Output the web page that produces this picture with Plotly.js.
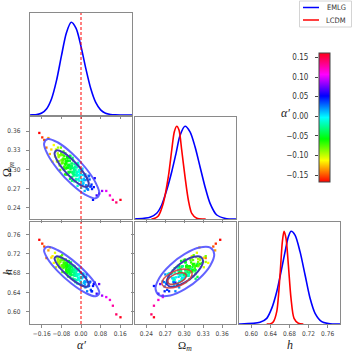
<!DOCTYPE html>
<html>
<head>
<meta charset="utf-8">
<script src="https://cdn.plot.ly/plotly-3.0.1.min.js"></script>
<style>
  html, body { margin: 0; padding: 0; background: #fff; }
  #plot { width: 354px; height: 354px; }
</style>
</head>
<body>
<div id="plot"></div>
<script>
// 1D marginals (normalised to peak = 1)
var alphaX = [-0.208, -0.20, -0.18, -0.16, -0.14, -0.12, -0.10, -0.08, -0.06, -0.04, -0.02, 0.00, 0.02, 0.04, 0.06, 0.08, 0.10, 0.12, 0.14, 0.16, 0.208];
var alphaP = [0, 0.001, 0.005, 0.021, 0.068, 0.176, 0.37, 0.634, 0.882, 1.0, 0.935, 0.74, 0.497, 0.282, 0.135, 0.055, 0.019, 0.006, 0.001, 0, 0];

var omX_emlg = [0.222, 0.2247, 0.2458, 0.2564, 0.2643, 0.2723, 0.2802, 0.2870, 0.2933, 0.3012, 0.3092, 0.3171, 0.3250, 0.3329, 0.3409, 0.3515, 0.3673, 0.382];
var omP_emlg = [0, 0.001, 0.019, 0.062, 0.151, 0.313, 0.510, 0.708, 0.90, 1.0, 0.94, 0.779, 0.564, 0.348, 0.169, 0.043, 0.003, 0];
var omX_lcdm = [0.248, 0.2510, 0.2589, 0.2668, 0.2748, 0.2802, 0.2843, 0.2881, 0.2917, 0.2960, 0.3012, 0.3065, 0.3119, 0.3198, 0.3302, 0.334];
var omP_lcdm = [0, 0.002, 0.032, 0.169, 0.456, 0.744, 0.941, 1.0, 0.959, 0.744, 0.456, 0.205, 0.061, 0.008, 0, 0];

var hX_emlg = [0.574, 0.5761, 0.6181, 0.6322, 0.6427, 0.6532, 0.6637, 0.6721, 0.6776, 0.6832, 0.6916, 0.7021, 0.7127, 0.7232, 0.7337, 0.7477, 0.7652, 0.786];
var hP_emlg = [0, 0, 0.018, 0.061, 0.169, 0.348, 0.600, 0.816, 0.941, 1.0, 0.959, 0.780, 0.528, 0.277, 0.115, 0.025, 0.002, 0];
var hX_lcdm = [0.632, 0.6391, 0.6462, 0.6532, 0.6601, 0.6650, 0.6685, 0.6727, 0.6776, 0.6832, 0.6895, 0.6986, 0.7091];
var hP_lcdm = [0, 0, 0.025, 0.133, 0.528, 0.887, 1.0, 0.924, 0.636, 0.277, 0.061, 0.008, 0];

// chain samples (alpha', Omega_m, h)
var sampAlpha = [-0.170,-0.158,-0.150,-0.141,-0.133,-0.127,-0.121,-0.116,-0.111,-0.106,-0.102,-0.098,-0.094,-0.091,-0.088,-0.085,-0.082,-0.079,-0.077,-0.074,
  -0.072,-0.070,-0.068,-0.066,-0.064,-0.062,-0.060,-0.058,-0.056,-0.055,-0.053,-0.051,-0.050,-0.048,-0.047,-0.045,-0.044,-0.042,-0.041,-0.039,
  -0.038,-0.036,-0.035,-0.033,-0.032,-0.030,-0.029,-0.027,-0.026,-0.024,-0.023,-0.021,-0.019,-0.018,-0.016,-0.014,-0.012,-0.010,-0.008,-0.006,
  -0.004,-0.002,0.000,0.003,0.006,0.009,0.012,0.015,0.018,0.021,0.025,0.029,0.033,0.038,0.043,0.049,0.056,0.064,0.074,0.086,
  0.103,0.118,0.130,0.144,0.161,
  -0.095,-0.087,-0.081,-0.076,-0.071,-0.067,-0.063,-0.059,-0.057,-0.054,-0.052,-0.049,-0.046,-0.043,-0.040,-0.037,-0.034,-0.031,-0.028,-0.025,
  -0.022,-0.020,-0.017,-0.015,-0.011,-0.007,-0.003,0.001,0.005,0.010,0.016,0.023,0.031,0.040,0.052,-0.065,-0.044,-0.035,-0.027,-0.009,
  -0.092,-0.089,-0.084,-0.080,-0.078,-0.075,-0.073,-0.069,-0.066,-0.063,-0.061,-0.058,-0.056,-0.053,-0.050,-0.048,-0.045,-0.043,-0.040,-0.037,
  -0.034,-0.031,-0.029,-0.026,-0.023,-0.019,-0.016,-0.013,-0.009,-0.005,-0.001,0.004,0.008,0.013,0.019,0.027,0.035,0.045,-0.060,-0.070];
var sampOm = [0.357,0.350,0.346,0.334,0.349,0.324,0.331,0.312,0.338,0.320,0.331,0.312,0.334,0.319,0.322,0.299,0.334,0.309,0.315,0.322,
  0.317,0.300,0.321,0.308,0.325,0.301,0.310,0.292,0.318,0.302,0.313,0.296,0.318,0.304,0.307,0.285,0.321,0.296,0.302,0.309,
  0.305,0.288,0.309,0.296,0.314,0.290,0.299,0.281,0.308,0.291,0.303,0.285,0.307,0.293,0.296,0.274,0.310,0.285,0.291,0.298,
  0.293,0.276,0.297,0.284,0.301,0.277,0.285,0.266,0.292,0.275,0.286,0.268,0.289,0.273,0.276,0.252,0.286,0.259,0.262,0.266,
  0.266,0.259,0.252,0.248,0.252,
  0.325,0.306,0.325,0.311,0.328,0.303,0.311,0.292,0.319,0.302,0.313,0.295,0.317,0.302,0.305,0.282,0.318,0.293,0.298,0.304,
  0.299,0.283,0.303,0.290,0.307,0.282,0.290,0.271,0.297,0.279,0.289,0.270,0.290,0.273,0.272,0.292,0.321,0.294,0.297,0.299,
  0.322,0.313,0.322,0.314,0.323,0.310,0.314,0.304,0.316,0.307,0.313,0.303,0.314,0.306,0.307,0.295,0.313,0.300,0.302,0.305,
  0.302,0.293,0.302,0.295,0.303,0.290,0.294,0.284,0.296,0.287,0.292,0.281,0.291,0.283,0.283,0.269,0.284,0.269,0.309,0.316];
var sampH = [0.749,0.741,0.735,0.711,0.727,0.733,0.712,0.715,0.701,0.722,0.692,0.712,0.703,0.713,0.694,0.706,0.715,0.693,0.717,0.696,
  0.690,0.706,0.697,0.681,0.699,0.708,0.688,0.692,0.679,0.702,0.673,0.693,0.686,0.696,0.678,0.690,0.699,0.679,0.702,0.682,
  0.676,0.692,0.684,0.668,0.687,0.695,0.675,0.680,0.667,0.689,0.661,0.681,0.674,0.684,0.665,0.678,0.687,0.666,0.689,0.669,
  0.663,0.679,0.670,0.654,0.672,0.679,0.659,0.663,0.650,0.672,0.642,0.661,0.653,0.662,0.642,0.653,0.660,0.637,0.657,0.633,
  0.630,0.624,0.612,0.594,0.588,
  0.707,0.692,0.712,0.682,0.701,0.693,0.702,0.682,0.695,0.703,0.683,0.705,0.685,0.678,0.694,0.685,0.668,0.686,0.694,0.674,
  0.678,0.665,0.687,0.658,0.677,0.669,0.678,0.659,0.670,0.678,0.656,0.677,0.655,0.645,0.657,0.696,0.672,0.688,0.694,0.668,
  0.709,0.699,0.703,0.707,0.696,0.707,0.696,0.692,0.699,0.694,0.686,0.694,0.698,0.687,0.688,0.682,0.692,0.677,0.686,0.682,
  0.686,0.676,0.681,0.685,0.674,0.685,0.674,0.670,0.677,0.671,0.662,0.669,0.672,0.661,0.661,0.652,0.660,0.642,0.694,0.695];

// contour outlines (68% and 95%)
var aOm95X = [0.0746, 0.0595, 0.0183, -0.038, -0.0943, -0.1355, -0.1506, -0.1355, -0.0943, -0.038, 0.0183, 0.0595, 0.0746];
var aOm95Y = [0.2615, 0.279, 0.3024, 0.3255, 0.342, 0.3475, 0.3405, 0.323, 0.2996, 0.2765, 0.26, 0.2545, 0.2615];
var aOm68X = [0.0317, 0.0224, -0.0032, -0.038, -0.0729, -0.0984, -0.1077, -0.0984, -0.0729, -0.038, -0.0032, 0.0224, 0.0317];
var aOm68Y = [0.2765, 0.2874, 0.3019, 0.3162, 0.3264, 0.3298, 0.3255, 0.3146, 0.3001, 0.2858, 0.2756, 0.2722, 0.2765];
var aH95Y = [0.6383, 0.6569, 0.6826, 0.7083, 0.7273, 0.7344, 0.7277, 0.7091, 0.6834, 0.6577, 0.6387, 0.6316, 0.6383];
var aH68Y = [0.6553, 0.6669, 0.6827, 0.6987, 0.7104, 0.7148, 0.7107, 0.6991, 0.6833, 0.6673, 0.6556, 0.6512, 0.6553];
var omH95X = [0.3475, 0.3413, 0.3243, 0.301, 0.2778, 0.2607, 0.2545, 0.2607, 0.2778, 0.301, 0.3243, 0.3413, 0.3475];
var omH95Y = [0.719, 0.7325, 0.7328, 0.7197, 0.6968, 0.6702, 0.647, 0.6335, 0.6332, 0.6463, 0.6692, 0.6958, 0.719];
var omH68X = [0.3298, 0.3259, 0.3154, 0.301, 0.2866, 0.2761, 0.2722, 0.2761, 0.2866, 0.301, 0.3154, 0.3259, 0.3298];
var omH68Y = [0.7053, 0.7136, 0.7138, 0.7057, 0.6915, 0.6751, 0.6607, 0.6524, 0.6522, 0.6603, 0.6745, 0.6909, 0.7053];
var lcdm95X = [0.3125, 0.3093, 0.3005, 0.2885, 0.2765, 0.2677, 0.2645, 0.2677, 0.2765, 0.2885, 0.3005, 0.3093, 0.3125];
var lcdm95Y = [0.6783, 0.6855, 0.6881, 0.6855, 0.6783, 0.6685, 0.6587, 0.6515, 0.6489, 0.6515, 0.6587, 0.6685, 0.6783];
var lcdm68X = [0.3034, 0.3014, 0.2959, 0.2885, 0.2811, 0.2756, 0.2737, 0.2756, 0.2811, 0.2885, 0.2959, 0.3014, 0.3034];
var lcdm68Y = [0.6746, 0.6790, 0.6806, 0.6790, 0.6746, 0.6685, 0.6625, 0.6580, 0.6564, 0.6580, 0.6625, 0.6685, 0.6746];

// ticks and labels
var alphaTicks = [-0.16, -0.08, 0.00, 0.08, 0.16];
var alphaText = ["\u22120.16", "\u22120.08", "0.00", "0.08", "0.16"];
var omTicks = [0.24, 0.27, 0.30, 0.33, 0.36];
var omText = ["0.24", "0.27", "0.30", "0.33", "0.36"];
var hTicks = [0.60, 0.64, 0.68, 0.72, 0.76];
var hText = ["0.60", "0.64", "0.68", "0.72", "0.76"];
var cbTicks = [-0.15, -0.10, -0.05, 0.00, 0.05, 0.10, 0.15];
var cbText = ["\u22120.15", "\u22120.10", "\u22120.05", "0.00", "0.05", "0.10", "0.15"];
var models = ["EMLG", "LCDM"];
var alphaRef = 0;

var W = 354;
function dx(a, b) { return [a / W, b / W]; }
function dy(t, b) { return [1 - b / W, 1 - t / W]; }
var col = [dx(30, 132), dx(135, 236), dx(239, 340)];
var row = [dy(13, 115), dy(117, 219), dy(222, 324)];
var rA = [-0.208, 0.208], rOm = [0.222, 0.382], rH = [0.574, 0.786], rP = [0, 1.1];

var hsv = [[0, "#ff0000"], [0.167, "#ffff00"], [0.333, "#00ff00"], [0.5, "#00ffff"],
           [0.667, "#0000ff"], [0.833, "#ff00ff"], [1, "#ff0018"]];
var cmin = -0.167, cmax = 0.162;

var blue = "#0000ff", red = "#ff0000";
var c95 = "rgba(70,70,255,0.85)", c68 = "#3c3cb4";
var r95 = "rgba(215,60,60,0.85)", r68 = "rgba(190,60,60,0.9)";
var narrow = "Liberation Sans Narrow, DejaVu Sans Condensed, Liberation Sans";

function pts(x, y, ax, bar) {
  var m = {color: sampAlpha, colorscale: hsv, cmin: cmin, cmax: cmax, size: 2.3, symbol: "square", line: {width: 0}, showscale: !!bar};
  if (bar) {
    m.colorbar = {x: 319 / W, xanchor: "left", y: 1 - 52.7 / W, yanchor: "top", lenmode: "pixels", len: 129,
      thickness: 11, xpad: 0, ypad: 0, outlinewidth: 1, outlinecolor: "#444", showticklabels: false, ticks: ""};
  }
  return {type: "scatter", mode: "markers", x: x, y: y, xaxis: "x" + ax, yaxis: "y" + ax, marker: m, showlegend: false, hoverinfo: "skip"};
}
function loop(x, y, ax, color, w) {
  return {type: "scatter", mode: "lines", x: x, y: y, xaxis: "x" + ax, yaxis: "y" + ax,
    line: {color: color, width: w, shape: "spline", smoothing: 1}, showlegend: false, hoverinfo: "skip"};
}
function curve(x, y, ax, color) {
  return {type: "scatter", mode: "lines", x: x, y: y, xaxis: "x" + ax, yaxis: "y" + ax,
    line: {color: color, width: 1.6, shape: "spline", smoothing: 0.8}, showlegend: false};
}

var traces = [
  curve(alphaX, alphaP, "", blue),
  pts(sampAlpha, sampOm, "2", true),
  loop(aOm95X, aOm95Y, "2", c95, 2), loop(aOm68X, aOm68Y, "2", c68, 2),
  pts(sampAlpha, sampH, "3"),
  loop(aOm95X, aH95Y, "3", c95, 2), loop(aOm68X, aH68Y, "3", c68, 2),
  curve(omX_emlg, omP_emlg, "4", blue),
  curve(omX_lcdm, omP_lcdm, "4", red),
  pts(sampOm, sampH, "5"),
  loop(omH95X, omH95Y, "5", c95, 2), loop(omH68X, omH68Y, "5", c68, 2),
  loop(lcdm95X, lcdm95Y, "5", r95, 1.6), loop(lcdm68X, lcdm68Y, "5", r68, 1.6),
  curve(hX_emlg, hP_emlg, "6", blue),
  curve(hX_lcdm, hP_lcdm, "6", red),
  {type: "scatter", x: [], y: [], xaxis: "x7", yaxis: "y7", showlegend: false}
];

var tickFont = {family: narrow, size: 6.5, color: "#444"};
function axis(dom, rng, anchor, vals, text, labels, ticks, pad) {
  return {domain: dom, range: rng, anchor: anchor, showline: true, mirror: true, linecolor: "#8a8a8a", linewidth: 1.3,
    showgrid: false, zeroline: false, ticks: ticks ? "outside" : "", ticklen: 3, tickwidth: 1, tickcolor: "#8a8a8a",
    tickvals: vals, ticktext: text, showticklabels: labels, tickfont: tickFont, tickangle: 0,
    ticklabelstandoff: pad || 0, fixedrange: true};
}

var annText = [
  {text: "<i>\u03b1\u2032</i>", x: 81, y: 345},
  {text: "\u03a9<sub><i>m</i></sub>", x: 185, y: 354, yanchor: "bottom", size: 11},
  {text: "<i>h</i>", x: 290, y: 345},
  {text: "\u03a9<sub><i>m</i></sub>", x: 8, y: 170, textangle: -90},
  {text: "<i>h</i>", x: 8, y: 272, textangle: -90},
  {text: "<i>\u03b1\u2032</i>", x: 285, y: 113}
].map(function (a) {
  return {text: a.text, x: a.x / W, y: 1 - a.y / W, textangle: a.textangle || 0, xref: "paper", yref: "paper",
    showarrow: false, xanchor: "center", yanchor: a.yanchor || "middle", borderpad: 0,
    font: {family: "Liberation Serif", size: a.size || 12, color: "#222"}};
});
// legend entries
var legendAnn = models.map(function (m, i) {
  return {text: m, x: 348 / W, y: 1 - (7.5 + 12.5 * i) / W, xref: "paper", yref: "paper", showarrow: false,
    xanchor: "right", yanchor: "middle", font: {family: narrow, size: 7.5, color: "#333"}};
});
var legendShapes = [
  {type: "rect", xref: "paper", yref: "paper", x0: 299.5 / W, x1: 351.5 / W, y0: 1 - 27 / W, y1: 1 - 1 / W,
    line: {color: "#d4d4d4", width: 1}, fillcolor: "#fff"}
].concat([blue, red].map(function (c, i) {
  var yy = 1 - (7.5 + 12.5 * i) / W;
  return {type: "line", xref: "paper", yref: "paper", x0: 303 / W, x1: 319 / W, y0: yy, y1: yy, line: {color: c, width: 1.5}};
}));

var layout = {
  width: 354, height: 354, margin: {l: 0, r: 0, t: 0, b: 0},
  paper_bgcolor: "#fff", plot_bgcolor: "#fff", showlegend: false,
  font: {family: "DejaVu Sans"},
  xaxis: axis(col[0], rA, "y", alphaTicks, alphaText, false, true),
  yaxis: axis(row[0], rP, "x", [], [], false, false),
  xaxis2: axis(col[0], rA, "y2", alphaTicks, alphaText, false, true),
  yaxis2: axis(row[1], rOm, "x2", omTicks, omText, true, true, 4),
  xaxis3: axis(col[0], rA, "y3", alphaTicks, alphaText, true, true),
  yaxis3: axis(row[2], rH, "x3", hTicks, hText, true, true, 4),
  xaxis4: axis(col[1], rOm, "y4", omTicks, omText, false, true),
  yaxis4: axis(row[1], rP, "x4", [], [], false, false),
  xaxis5: axis(col[1], rOm, "y5", omTicks, omText, true, true),
  yaxis5: axis(row[2], rH, "x5", hTicks, hText, false, true),
  xaxis6: axis(col[2], rH, "y6", hTicks, hText, true, true),
  yaxis6: axis(row[2], rP, "x6", [], [], false, false),
  xaxis7: {domain: dx(319, 330), anchor: "y7", visible: false, range: [0, 1], fixedrange: true},
  yaxis7: {domain: dy(52.7, 181.7), anchor: "x7", side: "left", range: [cmin, cmax], showline: false, showgrid: false,
    zeroline: false, ticks: "outside", ticklen: 3, tickcolor: "#444", tickvals: cbTicks, ticktext: cbText,
    tickfont: {family: narrow, size: 8, color: "#333"}, ticklabelstandoff: 5, fixedrange: true},
  shapes: ["", "2", "3"].map(function (k) {
    return {type: "line", xref: "x" + k, yref: "y" + k + " domain", x0: alphaRef, x1: alphaRef, y0: 0, y1: 1,
      line: {color: red, width: 1, dash: "3px,2px"}};
  }).concat(legendShapes),
  annotations: annText.concat(legendAnn)
};

Plotly.newPlot("plot", traces, layout, {displayModeBar: false, staticPlot: true});
</script>
</body>
</html>
